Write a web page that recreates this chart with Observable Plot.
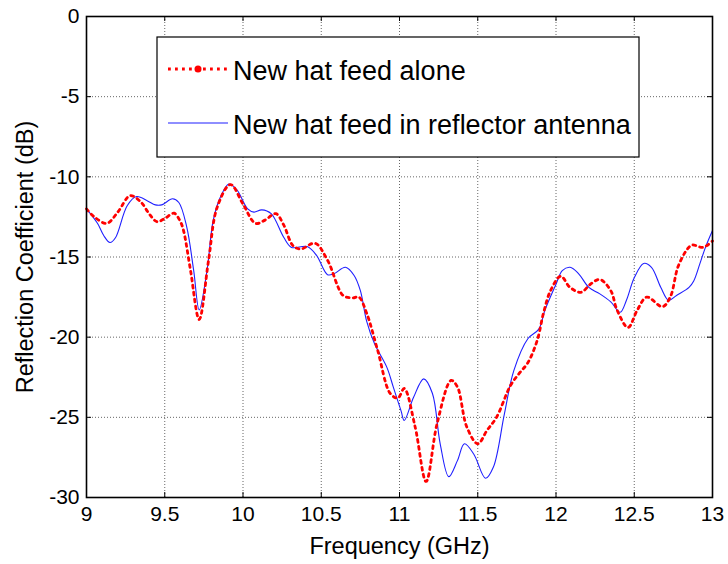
<!DOCTYPE html>
<html>
<head>
<meta charset="utf-8">
<script src="https://cdn.jsdelivr.net/npm/d3@7"></script>
<script src="https://cdn.jsdelivr.net/npm/@observablehq/plot@0.6"></script>
<style>
  html, body { margin: 0; padding: 0; background: #fff; }
  #chart { width: 728px; height: 564px; }
</style>
</head>
<body>
<div id="chart"></div>
<script>
// Series: New hat feed alone (red dotted)
const aloneFreq = [9.00,9.05,9.13,9.20,9.28,9.35,9.40,9.45,9.50,9.56,9.60,9.62,9.665,9.72,9.78,9.835,9.92,10.0,10.08,10.14,10.21,10.26,10.32,10.37,10.46,10.54,10.64,10.70,10.74,10.79,10.86,10.94,10.99,11.03,11.10,11.17,11.24,11.33,11.37,11.43,11.50,11.56,11.62,11.71,11.77,11.82,11.88,11.92,11.965,12.03,12.09,12.16,12.22,12.28,12.35,12.39,12.46,12.52,12.58,12.68,12.73,12.78,12.84,12.87,12.94,13.0];
const aloneDB = [-12.0,-12.5,-12.9,-12.2,-11.17,-11.6,-12.3,-12.8,-12.6,-12.27,-12.8,-13.35,-15.85,-18.9,-15.2,-11.9,-10.48,-11.7,-12.9,-12.7,-12.3,-13.0,-14.3,-14.5,-14.14,-15.2,-17.4,-17.55,-17.5,-18.5,-20.8,-23.5,-23.8,-23.2,-25.6,-29.0,-25.4,-22.7,-23.1,-25.6,-26.65,-25.8,-25.0,-23.0,-22.2,-21.6,-20.2,-18.5,-17.1,-16.2,-16.9,-17.2,-16.7,-16.4,-17.1,-18.3,-19.4,-18.3,-17.5,-18.1,-17.5,-15.6,-14.5,-14.25,-14.4,-14.0];

// Series: New hat feed in reflector antenna (blue solid)
const reflFreq = [9.00,9.07,9.11,9.15,9.185,9.26,9.32,9.39,9.44,9.48,9.55,9.59,9.64,9.685,9.72,9.77,9.81,9.86,9.91,9.96,10.03,10.07,10.12,10.18,10.26,10.31,10.41,10.47,10.54,10.58,10.655,10.71,10.75,10.79,10.84,10.92,10.96,11.01,11.03,11.09,11.155,11.21,11.26,11.315,11.37,11.415,11.475,11.55,11.60,11.67,11.73,11.82,11.89,11.93,12.0,12.04,12.09,12.145,12.21,12.28,12.35,12.41,12.45,12.50,12.56,12.61,12.67,12.72,12.77,12.85,12.88,12.92,12.955,13.0];
const reflDB = [-12.0,-12.9,-13.66,-14.1,-13.8,-11.8,-11.23,-11.5,-11.75,-11.75,-11.37,-11.6,-13.1,-15.85,-18.3,-15.85,-12.7,-11.17,-10.45,-10.8,-12.0,-12.2,-12.06,-12.3,-13.77,-14.4,-14.35,-14.9,-16.1,-16.05,-15.64,-16.15,-17.1,-19.0,-20.4,-21.9,-23.1,-24.6,-25.2,-23.75,-22.6,-23.5,-26.65,-28.7,-27.7,-26.65,-27.3,-28.8,-28.1,-24.8,-22.1,-20.1,-19.5,-18.3,-16.7,-15.85,-15.64,-16.05,-16.9,-17.3,-17.8,-18.45,-17.7,-16.3,-15.4,-15.64,-16.9,-17.7,-17.4,-16.9,-16.5,-15.4,-14.4,-13.35];

const xTicks = [9, 9.5, 10, 10.5, 11, 11.5, 12, 12.5, 13];
const yTicks = [0, -5, -10, -15, -20, -25, -30];
const seriesNames = ["New hat feed alone", "New hat feed in reflector antenna"];
const xLabel = "Frequency (GHz)";
const yLabel = "Reflection Coefficient (dB)";

const alone = aloneFreq.map((f, i) => ({f, db: aloneDB[i]}));
const refl = reflFreq.map((f, i) => ({f, db: reflDB[i]}));

const W = 728, H = 564, mL = 86, mR = 16, mT = 16, mB = 67;
const innerH = H - mT - mB, innerW = W - mL - mR, tk = 5;
const FONT = "'Liberation Sans', Arial, sans-serif";
const DOTS = "2.8,4.2";

const svg = Plot.plot({
  width: W,
  height: H,
  marginLeft: mL,
  marginRight: mR,
  marginTop: mT,
  marginBottom: mB,
  style: { fontFamily: FONT, background: "#fff", color: "#000" },
  x: { domain: [9, 13] },
  y: { domain: [-30, 0] },
  marks: [
    Plot.gridX(xTicks, { stroke: "#000", strokeOpacity: 0.6, strokeDasharray: "1,2" }),
    Plot.gridY(yTicks, { stroke: "#000", strokeOpacity: 0.6, strokeDasharray: "1,2" }),
    Plot.line(refl, { x: "f", y: "db", stroke: "#1f1fff", strokeWidth: 1.1, curve: "catmull-rom" }),
    Plot.line(alone, { x: "f", y: "db", stroke: "#ff0000", strokeWidth: 2.8, strokeDasharray: DOTS, curve: "catmull-rom" }),
    // inside ticks (MATLAB style) on all four sides
    Plot.tickX(xTicks, { x: d => d, insetTop: innerH - tk, stroke: "#000" }),
    Plot.tickX(xTicks, { x: d => d, insetBottom: innerH - tk, stroke: "#000" }),
    Plot.tickY(yTicks, { y: d => d, insetRight: innerW - tk, stroke: "#000" }),
    Plot.tickY(yTicks, { y: d => d, insetLeft: innerW - tk, stroke: "#000" }),
    Plot.axisX(xTicks, { tickSize: 0, tickPadding: 9, fontSize: 21, tickFormat: d => String(d), label: null }),
    Plot.axisY(yTicks, { tickSize: 0, tickPadding: 7, fontSize: 21, tickFormat: d => String(d), label: null }),
    Plot.axisX([], { tickSize: 0, fontSize: 23.5, label: xLabel, labelAnchor: "center", labelArrow: "none", labelOffset: 56 }),
    Plot.axisY([], { tickSize: 0, fontSize: 23.5, label: yLabel, labelAnchor: "center", labelArrow: "none", labelOffset: 70 }),
    Plot.frame({ stroke: "#000", strokeWidth: 1.6 })
  ]
});

// Legend box (MATLAB-style, inside the axes)
const g = d3.select(svg).append("g").attr("font-family", FONT).attr("text-anchor", "start");
g.append("rect").attr("x", 157).attr("y", 37).attr("width", 482).attr("height", 120)
  .attr("fill", "#fff").attr("stroke", "#000").attr("stroke-width", 1.2);
g.append("line").attr("x1", 168).attr("x2", 228).attr("y1", 69).attr("y2", 69)
  .attr("stroke", "#ff0000").attr("stroke-width", 2.8).attr("stroke-dasharray", DOTS);
g.append("circle").attr("cx", 198).attr("cy", 69).attr("r", 3.5).attr("fill", "#ff0000");
g.append("text").attr("x", 233).attr("y", 80).attr("font-size", 27).attr("text-anchor", "start").attr("fill", "#000").text(seriesNames[0]);
g.append("line").attr("x1", 168).attr("x2", 228).attr("y1", 123).attr("y2", 123)
  .attr("stroke", "#1f1fff").attr("stroke-width", 1.1);
g.append("text").attr("x", 233).attr("y", 134).attr("font-size", 27).attr("text-anchor", "start").attr("fill", "#000").text(seriesNames[1]);

document.getElementById("chart").appendChild(svg);
</script>
</body>
</html>
